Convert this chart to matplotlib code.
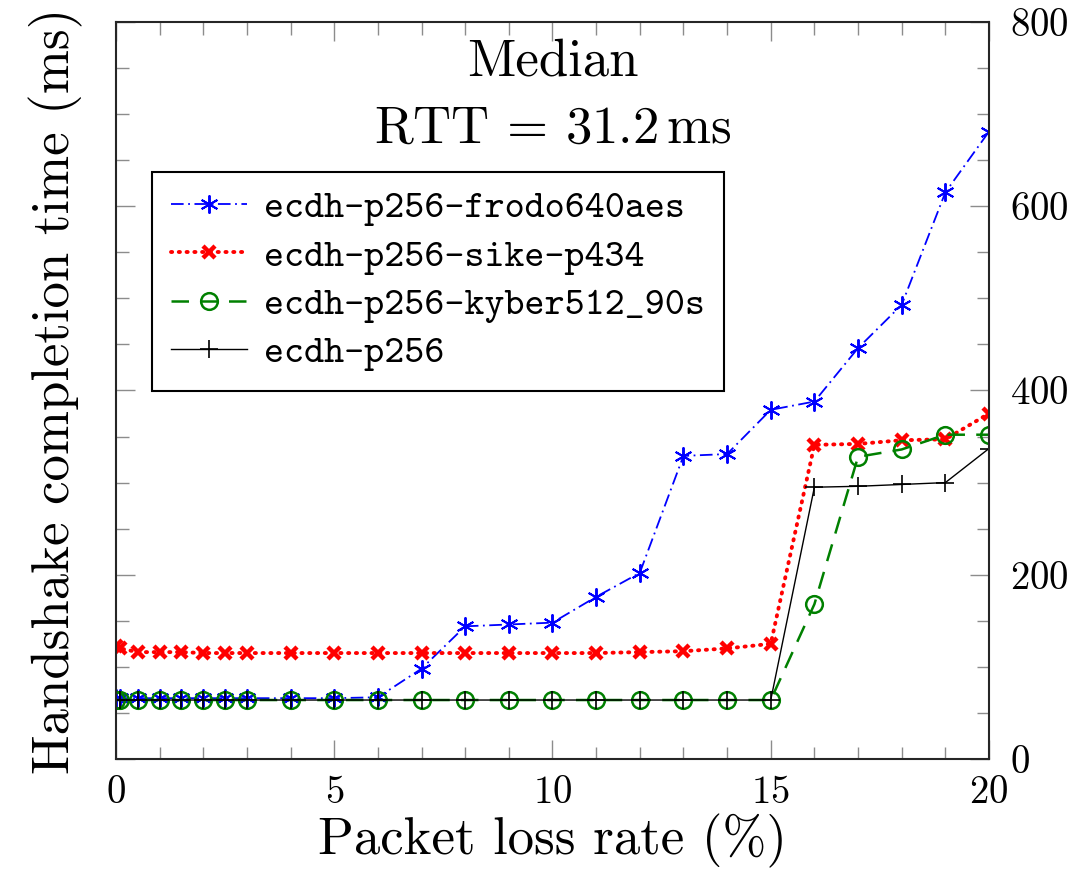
"""Median handshake completion time vs packet loss rate (RTT = 31.2 ms)."""

import matplotlib
matplotlib.use("Agg")
import matplotlib.pyplot as plt
from matplotlib.ticker import MultipleLocator

# ---------------------------------------------------------------------------
# Data
# ---------------------------------------------------------------------------
loss = [0, 0.1, 0.5, 1, 1.5, 2, 2.5, 3, 4, 5, 6, 7, 8, 9, 10,
        11, 12, 13, 14, 15, 16, 17, 18, 19, 20]

frodo = [66, 66, 66, 66, 66, 66, 66, 66, 66, 66, 67, 98, 144, 146, 148,
         176, 202, 329, 331, 379, 388, 446, 493, 615, 681]
sike = [123, 120, 116, 116, 116, 115, 115, 115, 115, 115, 115, 115, 115, 115, 115,
        115, 116, 117, 120, 125, 341, 342, 346, 347, 375]
kyber = [64, 64, 64, 64, 64, 64, 64, 64, 64, 64, 64, 64, 64, 64, 64,
         64, 64, 64, 64, 64, 168, 328, 336, 352, 352]
ecdh = [64, 64, 64, 64, 64, 64, 64, 64, 64, 64, 64, 64, 64, 64, 64,
        64, 64, 64, 64, 64, 295, 296, 298, 300, 337]

labels = ["ecdh-p256-frodo640aes", "ecdh-p256-sike-p434",
          "ecdh-p256-kyber512_90s", "ecdh-p256"]

# ---------------------------------------------------------------------------
# Style
# ---------------------------------------------------------------------------
plt.rcParams["font.family"] = ["cmr10", "DejaVu Serif"]
plt.rcParams["mathtext.fontset"] = "cm"
plt.rcParams["axes.formatter.use_mathtext"] = True

fig = plt.figure(figsize=(10.91, 8.72), dpi=100)
ax = fig.add_axes([0.1063, 0.1296, 0.8002, 0.8452])

ax.plot(loss, frodo, color="blue", linestyle=(0, (7, 2.5, 1, 2.5)), linewidth=1.3,
        marker=(6, 2, 0), markersize=13, markeredgewidth=1.4, label=labels[0])
ax.plot(loss, sike, color="red", linestyle=(0, (0.3, 1.7)), linewidth=2.8,
        dash_capstyle="round",
        marker="x", markersize=9, markeredgewidth=3.2, label=labels[1])
ax.plot(loss, kyber, color="green", linestyle=(0, (7, 4.5)), linewidth=1.8,
        marker="o", markersize=12, markerfacecolor="none", markeredgewidth=1.8,
        label=labels[2])
ax.plot(loss, ecdh, color="black", linestyle="-", linewidth=1.0,
        marker="+", markersize=13, markeredgewidth=1.2, label=labels[3])

ax.set_xlim(0, 20)
ax.set_ylim(0, 800)

ax.xaxis.set_major_locator(MultipleLocator(5))
ax.xaxis.set_minor_locator(MultipleLocator(1))
ax.yaxis.set_major_locator(MultipleLocator(200))
ax.yaxis.set_minor_locator(MultipleLocator(50))

ax.tick_params(which="both", direction="in", top=True, right=True,
               left=True, labelleft=False, labelright=True,
               color="0.55", labelsize=28)
ax.tick_params(axis="x", which="both", pad=12)
ax.tick_params(axis="y", which="both", pad=15)
ax.tick_params(which="major", length=14, width=1.0)
ax.tick_params(which="minor", length=9, width=1.0)

for side in ax.spines.values():
    side.set_linewidth(1.5)
    side.set_color("0.15")

ax.set_xlabel("Packet loss rate (%)", fontsize=38, labelpad=2)
ax.set_ylabel("Handshake completion time (ms)", fontsize=38, labelpad=24)

ax.text(0.5, 0.945, "Median", transform=ax.transAxes, fontsize=38,
        ha="center", va="center")
ax.text(0.5, 0.855, r"RTT = 31.2$\,$ms",
        transform=ax.transAxes, fontsize=38, ha="center", va="center")

leg = ax.legend(loc="upper left", bbox_to_anchor=(0.041, 0.797),
                borderaxespad=0, fancybox=False, edgecolor="black",
                framealpha=1, handlelength=2.0, handletextpad=0.45,
                labelspacing=0.33, borderpad=0.5,
                prop={"family": ["cmtt10", "DejaVu Sans Mono"], "size": 27.5})
leg.get_frame().set_linewidth(1.5)

fig.savefig("out.png", dpi=100)
